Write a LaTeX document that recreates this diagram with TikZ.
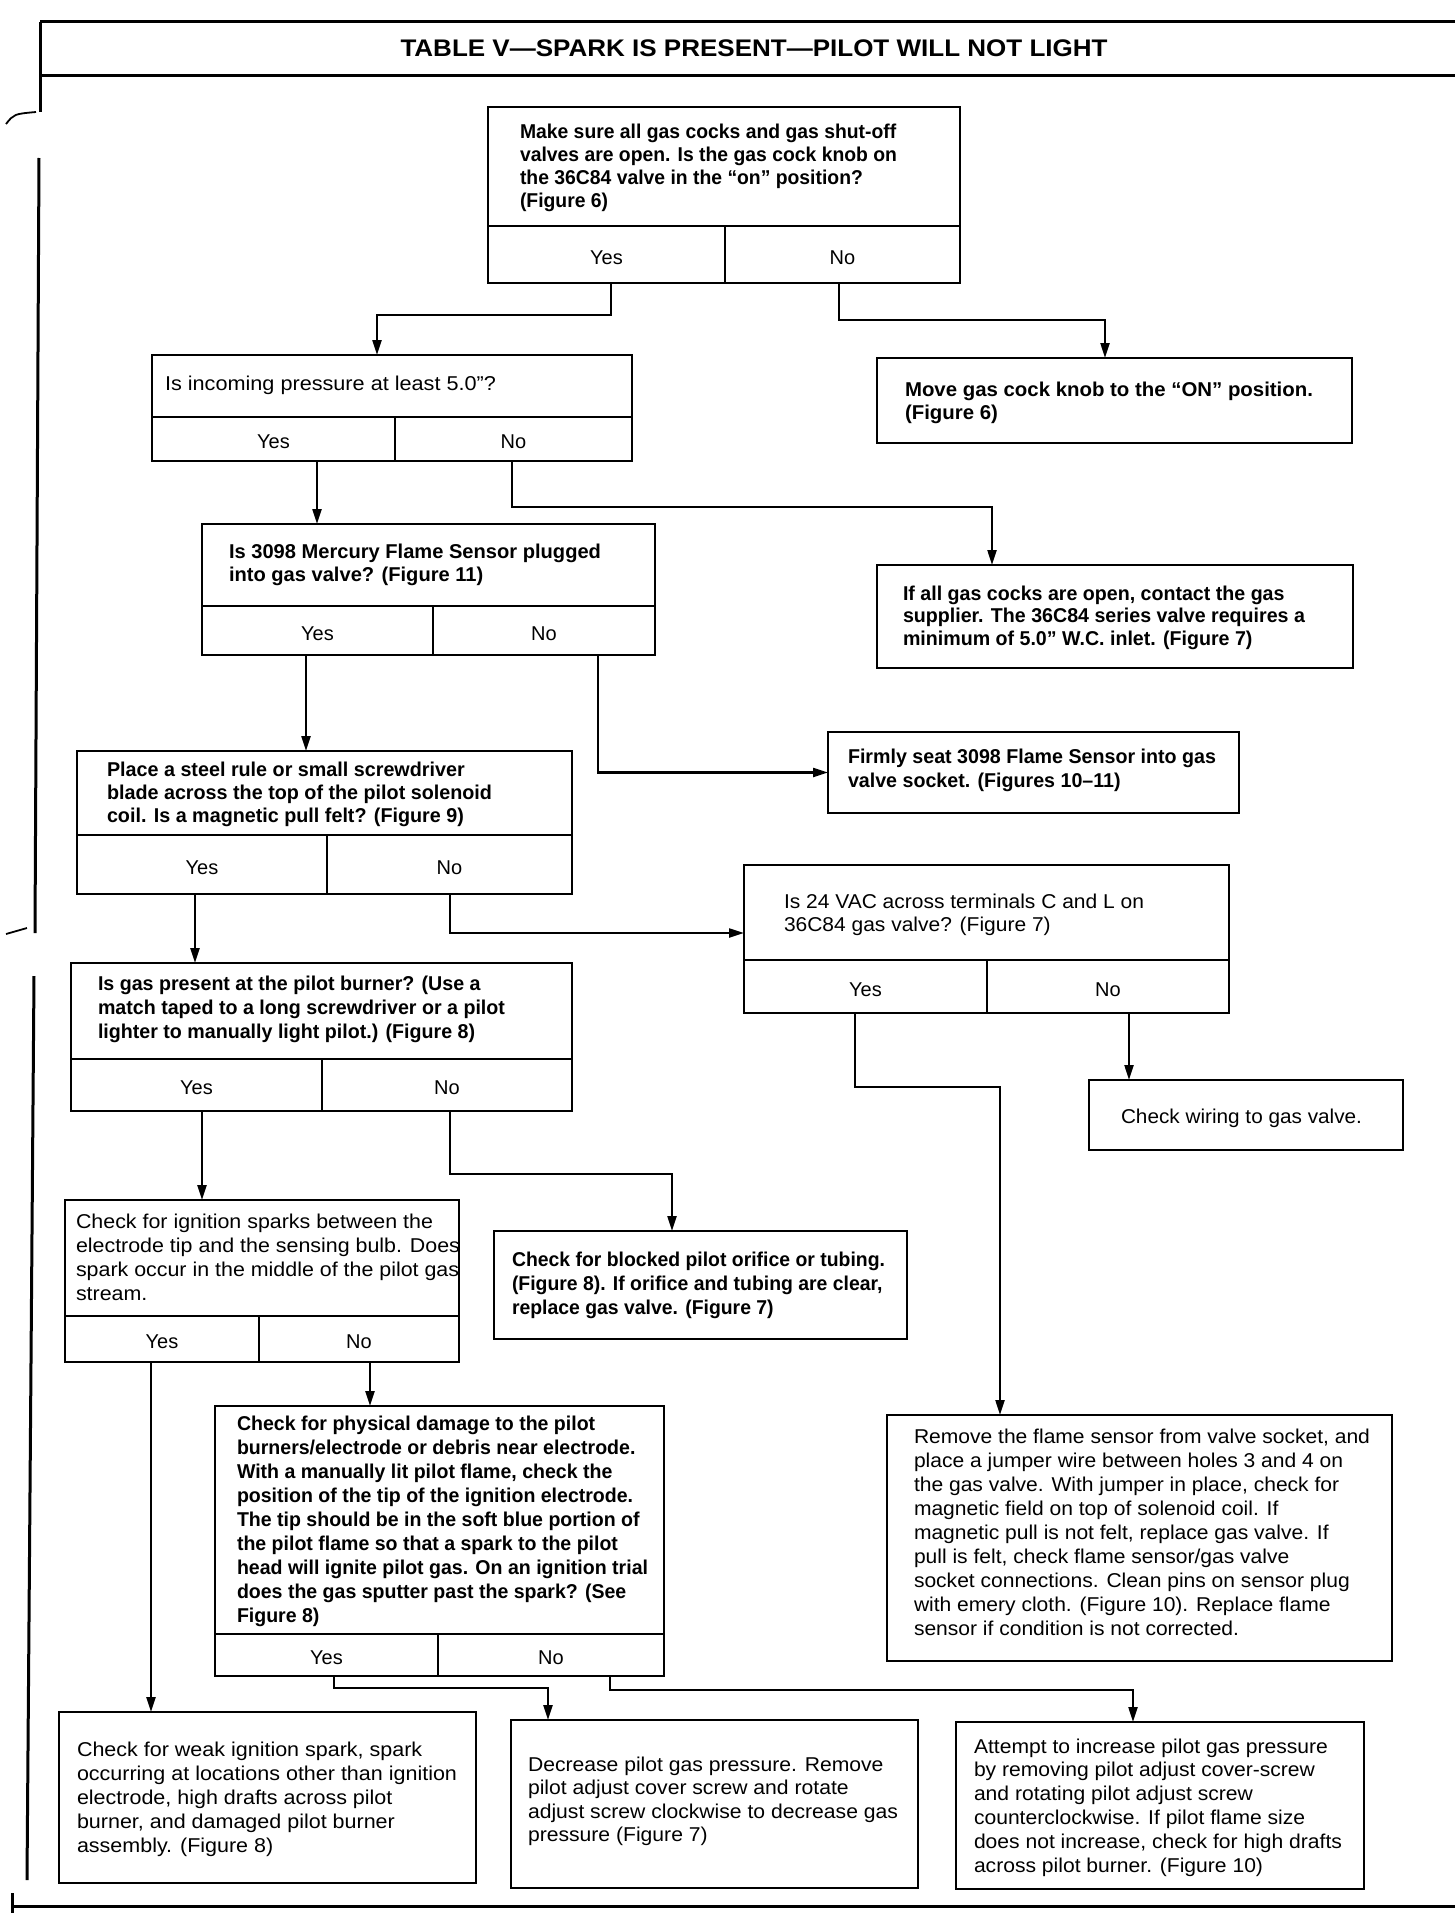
\documentclass[tikz,border=0pt]{standalone}
\usepackage{fontspec}
\setmainfont{Liberation Sans}
\usepackage{graphicx}
\usetikzlibrary{arrows.meta}
\newsavebox\tbox
\newlength\tlen
\newcommand\ftext[3]{\sbox\tbox{#1\begin{tabular}[t]{@{}l@{}}#3\end{tabular}}\setlength\tlen{\wd\tbox}\pgfmathsetmacro\tsc{#2/\tlen}\scalebox{\tsc}[1]{\usebox\tbox}}
\newcommand\fb[1]{\bfseries\fontsize{20}{#1}\selectfont}
\newcommand\fr[1]{\fontsize{20}{#1}\selectfont}
\tikzset{
 box/.style={draw,line width=2.6pt,inner sep=0pt,outer sep=0pt,rectangle},
 boxline/.style={line width=2.4pt},
 lab/.style={inner sep=0pt,yshift=-3pt,font=\fontsize{20}{24}\selectfont},
 arr/.style={line width=2.2pt,-{Triangle[length=15pt,width=9pt]}},
 frame/.style={line width=3pt},
}
\newcommand\abox[5]{\pgfmathsetmacro\bw{#4-#2}\pgfmathsetmacro\bh{#5-#3}\node[box,anchor=north west,minimum width=\bw pt,minimum height=\bh pt] (#1) at (#2,#3) {};}
\newcommand\qcells[6]{\draw[boxline] (#2,#5) -- (#3,#5) (#6,#5) -- (#6,#4);
 \node[lab] (#1y) at ({(#2+#6)/2},{(#5+#4)/2}) {Yes};
 \node[lab] (#1n) at ({(#6+#3)/2},{(#5+#4)/2}) {No};}
\newcommand\txt[6]{\node[anchor=base west,inner sep=0pt,outer sep=0pt] (#1) at (#2,#3) {\ftext{#4}{#5}{#6}};}
\begin{document}
\begin{tikzpicture}[x=1pt,y=-1pt]
\useasboundingbox (0,0) rectangle (1455,1913);
\fill[white] (0,0) rectangle (1455,1913);
% frame
\draw[frame] (40,22) -- (1455,22);
\draw[frame] (40,76) -- (1455,76);
\draw[frame] (40,22) -- (40,112);
\draw[line width=1.8pt] (6,124) .. controls (14,114) .. (36,112);
\draw[frame] (39,158) -- (35,933);
\draw[line width=1.8pt] (6,934) -- (27,928);
\draw[frame] (34,976) -- (27,1880);
\draw[frame] (12,1893) -- (12,1913);
\draw[frame] (12,1906) -- (1455,1906);
\node[anchor=base,inner sep=0pt] (title) at (754,57) {\ftext{\bfseries\fontsize{24}{28}\selectfont}{707}{TABLE V—SPARK IS PRESENT—PILOT WILL NOT LIGHT}};
% B1
\abox{b1}{488}{107}{960}{283}
\qcells{b1}{488}{960}{283}{226}{725}
\txt{t1}{520}{139}{\fb{23}}{377}{Make sure all gas cocks and gas shut-off\\valves are open. Is the gas cock knob on\\the 36C84 valve in the “on” position?\\(Figure 6)}
% B2
\abox{b2}{152}{355}{632}{461}
\qcells{b2}{152}{632}{461}{417}{395}
\txt{t2}{165}{390}{\fr{22}}{331}{Is incoming pressure at least 5.0”?}
% B3
\abox{b3}{877}{358}{1352}{443}
\txt{t3}{905}{396}{\fb{23}}{408}{Move gas cock knob to the “ON” position.\\(Figure 6)}
% B4
\abox{b4}{202}{524}{655}{655}
\qcells{b4}{202}{655}{655}{606}{433}
\txt{t4}{229}{558}{\fb{23}}{372}{Is 3098 Mercury Flame Sensor plugged\\into gas valve? (Figure 11)}
% B5
\abox{b5}{877}{565}{1353}{668}
\txt{t5}{903}{600}{\fb{22.5}}{402}{If all gas cocks are open, contact the gas\\supplier. The 36C84 series valve requires a\\minimum of 5.0” W.C. inlet. (Figure 7)}
% B6
\abox{b6}{77}{751}{572}{894}
\qcells{b6}{77}{572}{894}{835}{327}
\txt{t6}{107}{776}{\fb{23}}{385}{Place a steel rule or small screwdriver\\blade across the top of the pilot solenoid\\coil. Is a magnetic pull felt? (Figure 9)}
% B7
\abox{b7}{828}{732}{1239}{813}
\txt{t7}{848}{763}{\fb{24}}{368}{Firmly seat 3098 Flame Sensor into gas\\valve socket. (Figures 10–11)}
% B8
\abox{b8}{744}{865}{1229}{1013}
\qcells{b8}{744}{1229}{1013}{960}{987}
\txt{t8}{784}{908}{\fr{23}}{360}{Is 24 VAC across terminals C and L on\\36C84 gas valve? (Figure 7)}
% B9
\abox{b9}{71}{963}{572}{1111}
\qcells{b9}{71}{572}{1111}{1059}{322}
\txt{t9}{98}{990}{\fb{24}}{407}{Is gas present at the pilot burner? (Use a\\match taped to a long screwdriver or a pilot\\lighter to manually light pilot.) (Figure 8)}
% B10
\abox{b10}{1089}{1080}{1403}{1150}
\txt{t10}{1121}{1123}{\fr{22}}{241}{Check wiring to gas valve.}
% B11
\abox{b11}{887}{1415}{1392}{1661}
\txt{t11}{914}{1443}{\fr{24}}{456}{Remove the flame sensor from valve socket, and\\place a jumper wire between holes 3 and 4 on\\the gas valve. With jumper in place, check for\\magnetic field on top of solenoid coil. If\\magnetic pull is not felt, replace gas valve. If\\pull is felt, check flame sensor/gas valve\\socket connections. Clean pins on sensor plug\\with emery cloth. (Figure 10). Replace flame\\sensor if condition is not corrected.}
% B12
\abox{b12}{65}{1200}{459}{1362}
\qcells{b12}{65}{459}{1362}{1316}{259}
\txt{t12}{76}{1228}{\fr{24}}{384}{Check for ignition sparks between the\\electrode tip and the sensing bulb. Does\\spark occur in the middle of the pilot gas\\stream.}
% B13
\abox{b13}{494}{1231}{907}{1339}
\txt{t13}{512}{1266}{\fb{24}}{373}{Check for blocked pilot orifice  or tubing.\\(Figure 8). If orifice and tubing are clear,\\replace gas valve. (Figure 7)}
% B14
\abox{b14}{59}{1712}{476}{1883}
\txt{t14}{77}{1756}{\fr{24}}{380}{Check for weak ignition spark, spark\\occurring at locations other than ignition\\electrode, high drafts across pilot\\burner, and damaged pilot burner\\assembly. (Figure 8)}
% B15
\abox{b15}{215}{1406}{664}{1676}
\qcells{b15}{215}{664}{1676}{1634}{438}
\txt{t15}{237}{1430}{\fb{24}}{411}{Check for physical damage to the pilot\\burners/electrode or debris near electrode.\\With a manually lit pilot flame, check the\\position of the tip of the ignition electrode.\\The tip should be in the soft blue portion of\\the pilot flame so that a spark to the pilot\\head will ignite pilot gas. On an ignition trial\\does the gas sputter past the spark? (See\\Figure 8)}
% B16
\abox{b16}{511}{1720}{918}{1888}
\txt{t16}{528}{1771}{\fr{23.5}}{370}{Decrease pilot gas pressure. Remove\\pilot adjust cover screw and rotate\\adjust screw clockwise to decrease gas\\pressure (Figure 7)}
% B17
\abox{b17}{956}{1722}{1364}{1889}
\txt{t17}{974}{1753}{\fr{23.8}}{368}{Attempt to increase pilot gas pressure\\by removing pilot adjust cover-screw\\and rotating pilot adjust screw\\counterclockwise. If pilot flame size\\does not increase, check for high drafts\\across pilot burner. (Figure 10)}
% connectors
\draw[arr] ([xshift=-113pt]b1.south) -- ++(0,32) -| ([xshift=-15pt]b2.north);
\draw[arr] ([xshift=115pt]b1.south) -- ++(0,37) -| ([xshift=-9.5pt]b3.north);
\draw[arr] ([xshift=-75pt]b2.south) -- ([xshift=-111.5pt]b4.north);
\draw[arr] ([xshift=120pt]b2.south) -- ++(0,46) -| ([xshift=-123pt]b5.north);
\draw[arr] ([xshift=-122.5pt]b4.south) -- ([xshift=-18.5pt]b6.north);
\draw[arr] ([xshift=169.5pt]b4.south) |- (b7.west);
\draw[arr] ([xshift=-129.5pt]b6.south) -- ([xshift=-126.5pt]b9.north);
\draw[arr] ([xshift=125.5pt]b6.south) |- ([yshift=6pt]b8.west);
\draw[arr] ([xshift=142.5pt]b8.south) -- ([xshift=-117pt]b10.north);
\draw[arr] ([xshift=-131.5pt]b8.south) -- ++(0,74) -| ([xshift=-139.5pt]b11.north);
\draw[arr] ([xshift=-119.5pt]b9.south) -- ([xshift=-60pt]b12.north);
\draw[arr] ([xshift=128.5pt]b9.south) -- ++(0,63) -| ([xshift=-28.5pt]b13.north);
\draw[arr] ([xshift=-111pt]b12.south) -- ([xshift=-116.5pt]b14.north);
\draw[arr] ([xshift=108pt]b12.south) -- ([xshift=-69.5pt]b15.north);
\draw[arr] ([xshift=-105.5pt]b15.south) -- ++(0,12) -| ([xshift=-166.5pt]b16.north);
\draw[arr] ([xshift=170.5pt]b15.south) -- ++(0,14) -| ([xshift=-27pt]b17.north);
\end{tikzpicture}
\end{document}
